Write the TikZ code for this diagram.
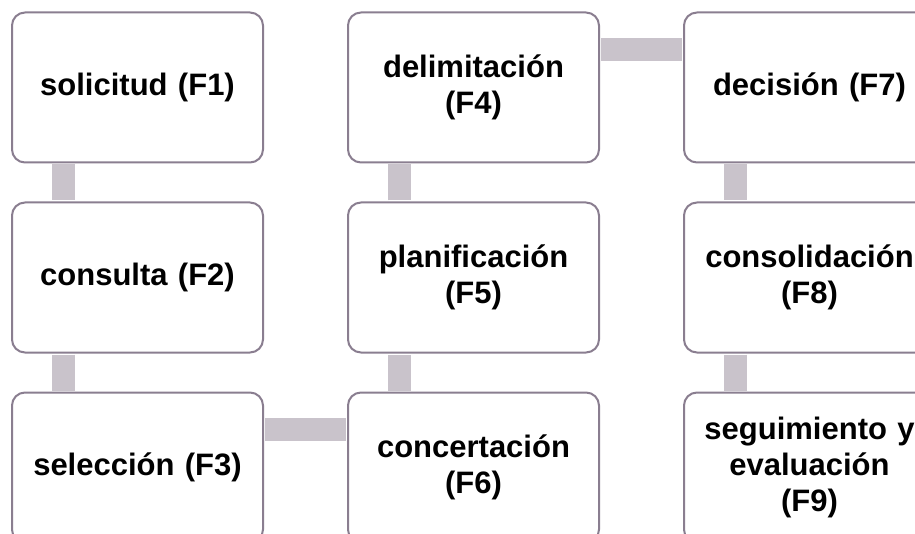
\documentclass[tikz,border=0pt]{standalone}
\usepackage{fontspec}
\setmainfont{Liberation Sans}
\usetikzlibrary{positioning}
\definecolor{boxline}{RGB}{138,126,144}
\definecolor{barfill}{RGB}{201,195,203}
\tikzstyle{Phase} = [draw=boxline, line width=2pt, fill=white, rounded corners=13pt, minimum width=251pt, minimum height=150pt, text width=235pt, align=center, font=\fontsize{31}{36}\selectfont\bfseries]
\tikzstyle{Link} = [draw=barfill, line width=23pt, shorten >=1pt, shorten <=1pt]

\begin{document}
\begin{tikzpicture}[x=1pt, y=1pt, node distance=38pt and 83pt]
    \clip (0,0) rectangle (915,-534);
    \node[Phase] (f1) at (137.5,-87.5)  {solicitud (F1)};
    \node[Phase] (f2) [below=of f1]     {consulta (F2)};
    \node[Phase] (f3) [below=of f2]     {selección (F3)};
    \node[Phase] (f6) [right=of f3]     {concertación\\(F6)};
    \node[Phase] (f5) [above=of f6]     {planificación\\(F5)};
    \node[Phase] (f4) [above=of f5]     {delimitación\\(F4)};
    \node[Phase] (f7) [right=of f4]     {decisión (F7)};
    \node[Phase] (f8) [below=of f7]     {consolidación\\(F8)};
    \node[Phase] (f9) [below=of f8]     {seguimiento y\\evaluación\\(F9)};
    \draw[Link] ([xshift=-74pt]f1.south) -- ([xshift=-74pt]f2.north);
    \draw[Link] ([xshift=-74pt]f2.south) -- ([xshift=-74pt]f3.north);
    \draw[Link] ([yshift=38pt]f3.east)   -- ([yshift=38pt]f6.west);
    \draw[Link] ([xshift=-74pt]f6.north) -- ([xshift=-74pt]f5.south);
    \draw[Link] ([xshift=-74pt]f5.north) -- ([xshift=-74pt]f4.south);
    \draw[Link] ([yshift=38pt]f4.east)   -- ([yshift=38pt]f7.west);
    \draw[Link] ([xshift=-74pt]f7.south) -- ([xshift=-74pt]f8.north);
    \draw[Link] ([xshift=-74pt]f8.south) -- ([xshift=-74pt]f9.north);
\end{tikzpicture}
\end{document}
